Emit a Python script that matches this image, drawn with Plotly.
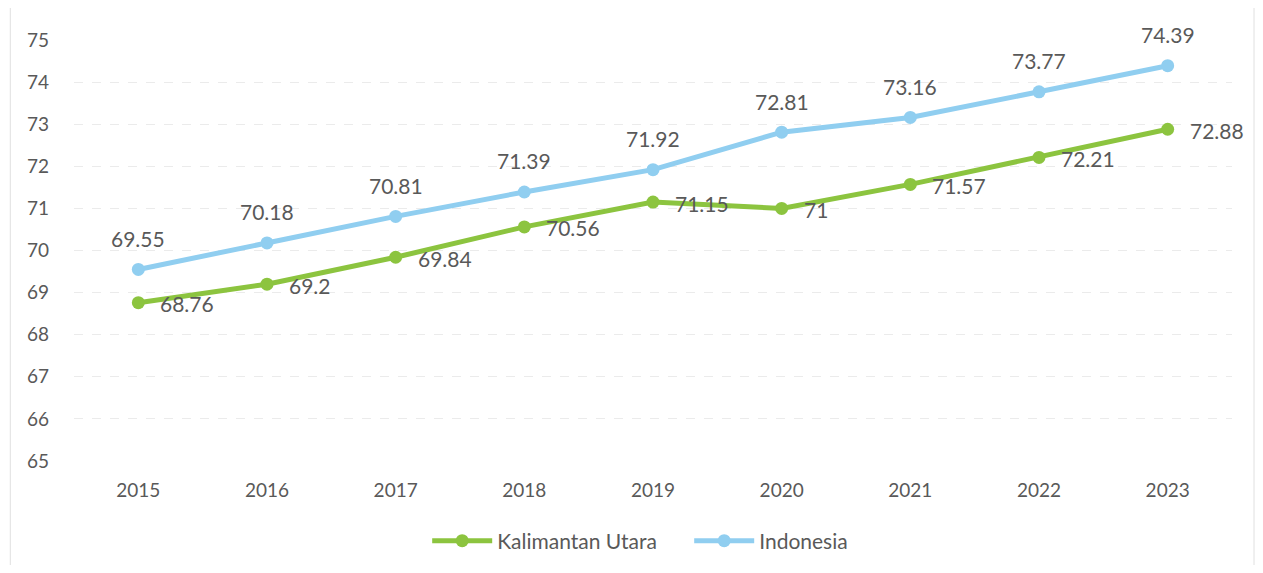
import plotly.graph_objects as go

years = ["2015", "2016", "2017", "2018", "2019", "2020", "2021", "2022", "2023"]
kaltara = [68.76, 69.2, 69.84, 70.56, 71.15, 71, 71.57, 72.21, 72.88]
indonesia = [69.55, 70.18, 70.81, 71.39, 71.92, 72.81, 73.16, 73.77, 74.39]

GREEN = "#8CC43F"
BLUE = "#90CEF0"
TXT = "#595959"
FONT = "Lato"

fig = go.Figure()
fig.add_trace(go.Scatter(
    x=years, y=kaltara, name="Kalimantan Utara", mode="lines+markers",
    line=dict(color=GREEN, width=5), marker=dict(color=GREEN, size=13),
    cliponaxis=False,
))
fig.add_trace(go.Scatter(
    x=years, y=indonesia, name="Indonesia", mode="lines+markers",
    line=dict(color=BLUE, width=5), marker=dict(color=BLUE, size=13),
    cliponaxis=False,
))

annotations = []
for i, v in enumerate(kaltara):
    annotations.append(dict(x=i, y=v, xref="x", yref="y", text=f"{v:g}", showarrow=False,
                            xanchor="left", yanchor="middle", xshift=20, yshift=-1,
                            font=dict(size=21, color=TXT, family=FONT)))
for i, v in enumerate(indonesia):
    annotations.append(dict(x=i, y=v, xref="x", yref="y", text=f"{v:g}", showarrow=False,
                            xanchor="center", yanchor="middle", yshift=31,
                            font=dict(size=21, color=TXT, family=FONT)))

fig.update_layout(
    width=1247, height=557,
    margin=dict(l=66, r=23, t=32, b=104, autoexpand=False),
    paper_bgcolor="white", plot_bgcolor="white",
    font=dict(family=FONT, color=TXT, size=19),
    showlegend=True,
    annotations=annotations,
    legend=dict(orientation="h", x=0.305, xanchor="left", y=-0.19, yanchor="middle",
                font=dict(size=21, color=TXT, family=FONT), traceorder="normal",
                itemwidth=60, entrywidth=187, entrywidthmode="pixels"),
    xaxis=dict(type="category", range=[-0.5, len(years) - 0.5], showgrid=False,
               showline=False, zeroline=False,
               tickfont=dict(size=19, color=TXT), ticks="", ticklabelstandoff=16),
    yaxis=dict(range=[65, 75], dtick=1, showgrid=True, gridcolor="#EBEBEB",
               griddash="dash", zeroline=False, showline=False,
               tickfont=dict(size=19, color=TXT), ticks="", ticklabelstandoff=24),
    shapes=[dict(type="rect", xref="paper", yref="paper", x0=-0.055, x1=1.019, y0=-0.3, y1=1.1,
                 line=dict(color="#E0E0E0", width=1))],
)

fig.write_html("out.html")
